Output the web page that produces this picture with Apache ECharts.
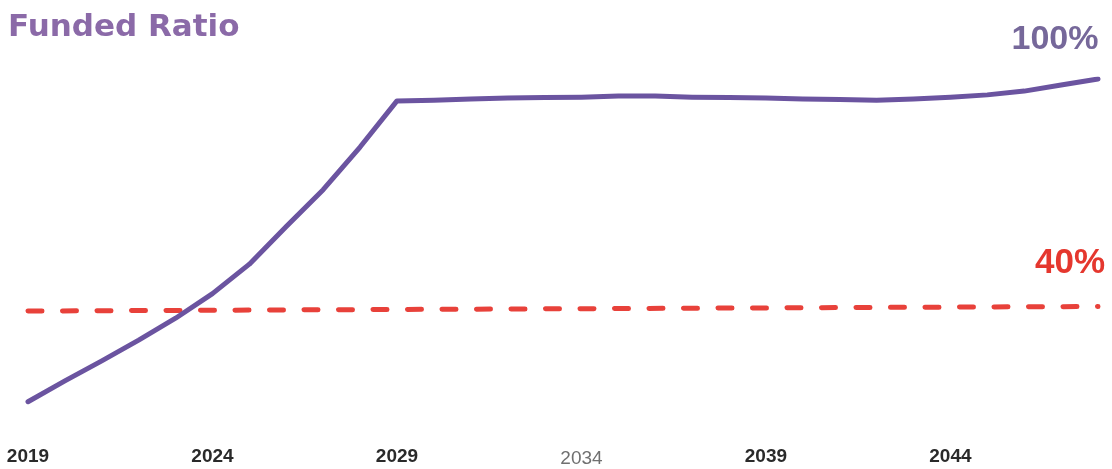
<!DOCTYPE html>
<html>
<head>
<meta charset="utf-8">
<script src="https://cdn.jsdelivr.net/npm/echarts@6/dist/echarts.min.js"></script>
<style>
html,body{margin:0;padding:0;background:#fff;}
#chart{width:1112px;height:469px;}
</style>
</head>
<body>
<div id="chart"></div>
<script>
// ---- data ----
const years = ['2019','2020','2021','2022','2023','2024','2025','2026','2027','2028',
  '2029','2030','2031','2032','2033','2034','2035','2036','2037','2038',
  '2039','2040','2041','2042','2043','2044','2045','2046','2047','2048'];
const fundedRatio = [14.6, 20.1, 25.4, 30.9, 36.7, 43.2, 51.0, 61.0, 70.7, 82.0,
  94.2, 94.4, 94.7, 95.0, 95.1, 95.2, 95.5, 95.5, 95.2, 95.1,
  95.0, 94.7, 94.6, 94.4, 94.7, 95.2, 95.8, 96.8, 98.4, 100];
const targetLine = [['2019', 38.6], ['2048', 39.8]];
const titleText = 'Funded Ratio';
const endLabel = '100%';
const targetLabel = '40%';
const dimLabel = '2034';

const chart = echarts.init(document.getElementById('chart'));
chart.setOption({
  backgroundColor: '#ffffff',
  animation: false,
  title: {
    text: titleText,
    left: 8, top: 12, padding: 0,
    textStyle: { fontFamily: 'DejaVu Sans', fontWeight: 'bold', fontSize: 31, color: '#8b6aa8' }
  },
  grid: { left: 28, right: 14, top: 79, bottom: 31, containLabel: false },
  xAxis: {
    type: 'category',
    data: years,
    boundaryGap: false,
    axisLine: { show: false },
    axisTick: { show: false },
    splitLine: { show: false },
    axisLabel: {
      interval: 4,
      margin: 9,
      fontFamily: 'Liberation Sans',
      fontWeight: 'bold',
      fontSize: 19,
      color: '#2a2a2a',
      formatter: function (v) { return v === dimLabel ? '{d|' + v + '}' : v; },
      rich: { d: { fontFamily: 'Liberation Sans', fontWeight: 'normal', fontSize: 19, color: '#707070', padding: [2, 0, 0, 0] } }
    }
  },
  yAxis: {
    type: 'value', min: 5, max: 100, show: false,
    splitLine: { show: false }
  },
  series: [
    {
      type: 'line',
      data: targetLine,
      symbol: 'none',
      lineStyle: { color: '#e8413a', width: 5, type: [14, 20.5], cap: 'round' },
      z: 2
    },
    {
      type: 'line',
      data: fundedRatio,
      symbol: 'none',
      smooth: false,
      lineStyle: { color: '#6b54a0', width: 5, cap: 'round', join: 'round' },
      z: 3
    }
  ],
  graphic: [
    { type: 'text', x: 1055, y: 40, style: { text: endLabel, fill: '#76689a', font: 'bold 34px "Liberation Sans"', textAlign: 'center', textVerticalAlign: 'middle' } },
    { type: 'text', x: 1070, y: 263, style: { text: targetLabel, fill: '#e5372e', font: 'bold 35px "Liberation Sans"', textAlign: 'center', textVerticalAlign: 'middle' } }
  ]
});
</script>
</body>
</html>
